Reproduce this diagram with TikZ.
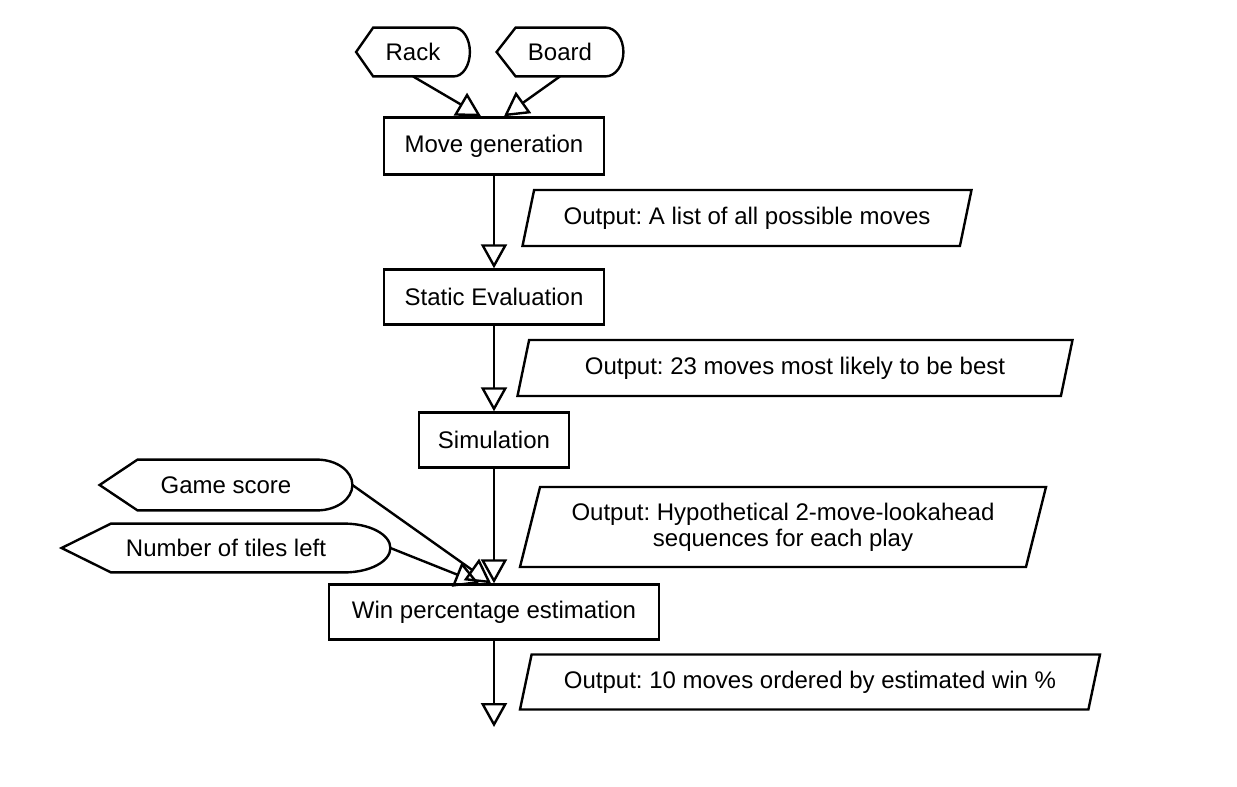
\documentclass[tikz,border=0pt]{standalone}
\usepackage{fontspec}
\setmainfont{Liberation Sans}
\frenchspacing
\usetikzlibrary{shapes.geometric,arrows.meta,calc}
\tikzset
{
	stepnode/.style = {rectangle, draw=black, line width=1.2pt, align=center, minimum height=27.5pt, font=\fontsize{12}{13}\selectfont},
	outnode/.style  = {trapezium, trapezium left angle=72, trapezium right angle=108, trapezium stretches body, draw=black, line width=1.2pt, align=center, minimum height=28pt, font=\fontsize{12}{13}\selectfont},
	datanode/.style = {rectangle, align=center, minimum height=24pt, inner sep=0pt, font=\fontsize{12}{13}\selectfont,
		append after command={\pgfextra{
			\draw[line width=1.2pt] let \p1=(\tikzlastnode.south west), \p2=(\tikzlastnode.north east),
				\n1={0.15*(\x2-\x1)}, \n2={0.14*(\x2-\x1)}, \n3={0.5*(\y2-\y1)} in
				(\tikzlastnode.west) -- (\x1+\n1,\y2) -- (\x2-\n2,\y2)
				arc[start angle=90, end angle=-90, x radius=\n2, y radius=\n3]
				-- (\x1+\n1,\y1) -- cycle;
		}}},
	flow/.style = {draw=black, line width=1.2pt, -{Triangle[open, length=12pt, width=13pt]}}
}

\begin{document}
\begin{tikzpicture}[x=0.5pt, y=-0.5pt]
\useasboundingbox (0,0) rectangle (1237,787);

% inputs
\node[datanode, minimum width=56.5pt] (rack) at (413,52) {Rack};
\node[datanode, minimum width=63pt] (board) at (560,52) {Board};
\node[datanode, minimum width=126pt, minimum height=25pt] (gamescore) at (226,485) {Game score};
\node[datanode, minimum width=164pt] (tilesleft) at (226,548) {Number of tiles left};

% main steps
\node[stepnode, minimum width=110pt, minimum height=28.5pt] (movegen) at (494,146) {Move generation};
\node[stepnode, minimum width=110pt] (staticeval) at (494,297) {Static Evaluation};
\node[stepnode, minimum width=75pt] (simulation) at (494,440) {Simulation};
\node[stepnode, minimum width=165pt] (winest) at (494,612) {Win percentage estimation};
\coordinate (finish) at (494,727);

% outputs
\node[outnode, minimum width=224.5pt] (out1) at (747,218) {Output: A list of all possible moves};
\node[outnode, minimum width=277.5pt] (out2) at (795,368) {Output: 23 moves most likely to be best};
\node[outnode, minimum width=263pt, minimum height=40pt] (out3) at (783,527) {Output: Hypothetical 2-move-lookahead\\sequences for each play};
\node[outnode, minimum width=290pt, minimum height=27.5pt] (out4) at (810,682) {Output: 10 moves ordered by estimated win \%};

% connectors
\draw[flow] (rack.south) -- ([xshift=-6.5pt]movegen.north);
\draw[flow] (board.south) -- ([xshift=5pt]movegen.north);
\draw[flow] (movegen) -- (staticeval);
\draw[flow] (staticeval) -- (simulation);
\draw[flow] (simulation) -- (winest);
\draw[flow] (gamescore.east) -- ([xshift=-1.5pt]winest.north);
\draw[flow] (tilesleft.east) -- ([xshift=-7.5pt]winest.north);
\draw[flow] (winest) -- (finish);
\end{tikzpicture}
\end{document}
